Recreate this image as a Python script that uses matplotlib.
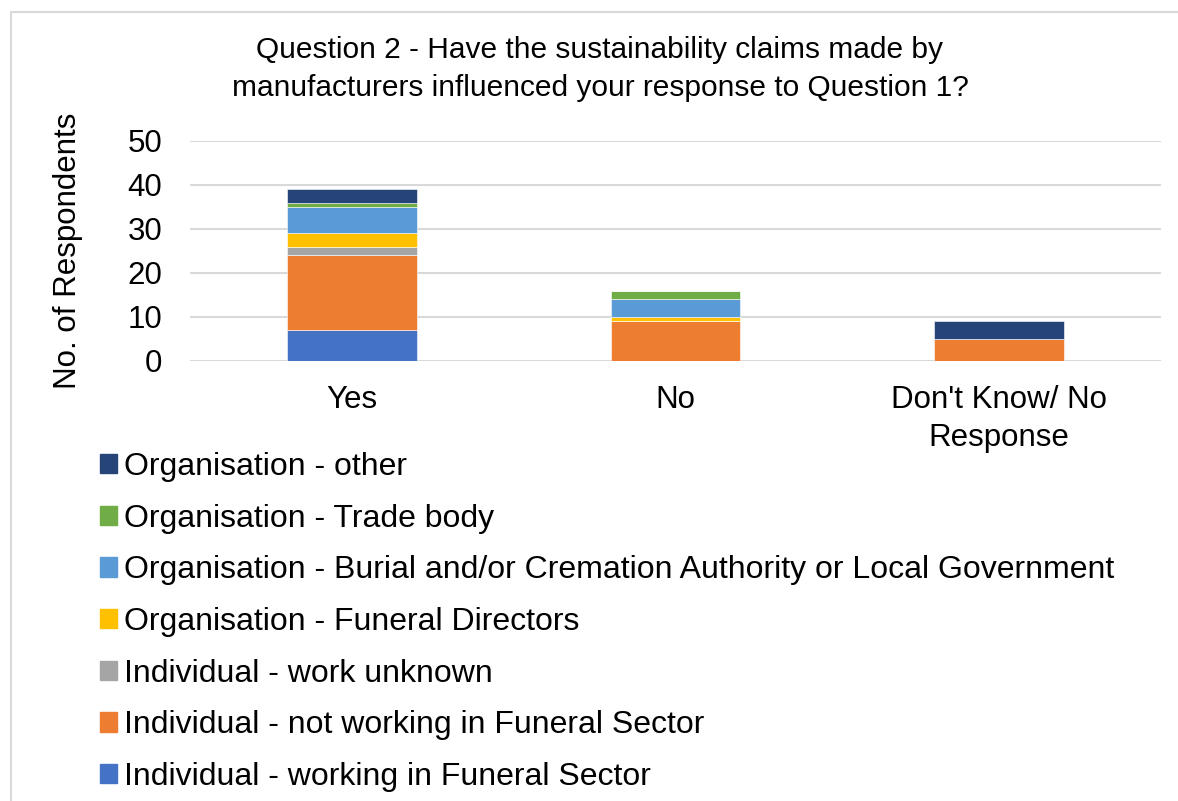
import matplotlib
matplotlib.use("Agg")
import matplotlib.pyplot as plt
from matplotlib.patches import Patch, Rectangle
import numpy as np

plt.rcParams['font.family'] = ['Liberation Sans', 'DejaVu Sans']

# survey answers and respondent groups (stack order bottom -> top)
answers = ["Yes", "No", "Don't Know/ No\nResponse"]
groups = [
    "Individual - working in Funeral Sector",
    "Individual - not working in Funeral Sector",
    "Individual - work unknown",
    "Organisation - Funeral Directors",
    "Organisation - Burial and/or Cremation Authority or Local Government",
    "Organisation - Trade body",
    "Organisation - other",
]
colours = ["#4472C4", "#ED7D31", "#A5A5A5", "#FFC000", "#5B9BD5", "#70AD47", "#264478"]

indiv_funeral = [7, 0, 0]
indiv_not_funeral = [17, 9, 5]
indiv_unknown = [2, 0, 0]
org_funeral_dir = [3, 1, 0]
org_burial = [6, 4, 0]
org_trade = [1, 2, 0]
org_other = [3, 0, 4]
series = [indiv_funeral, indiv_not_funeral, indiv_unknown, org_funeral_dir,
          org_burial, org_trade, org_other]

fig = plt.figure(figsize=(11.78, 8.01), dpi=100)

# light chart frame
fig.patches.append(Rectangle((11 / 1178, -0.05), 1.2, (801 - 12) / 801 + 0.05,
                             transform=fig.transFigure, fill=False,
                             edgecolor="#D9D9D9", linewidth=1.5))

ax = fig.add_axes([190 / 1178, (801 - 361) / 801, 971 / 1178, 220 / 801])

x = np.arange(len(answers))
bottom = np.zeros(len(answers))
handles = []
for vals, col, name in zip(series, colours, groups):
    ax.bar(x, vals, width=0.4, bottom=bottom, color=col, edgecolor="white",
           linewidth=0.4, zorder=3)
    bottom += np.array(vals)
    handles.append(Patch(facecolor=col, edgecolor=col, label=name))

ax.set_xlim(-0.5, 2.5)
ax.set_ylim(0, 50)
ax.set_yticks(range(0, 51, 10))
ax.yaxis.grid(True, color="#D9D9D9", linewidth=1.5, zorder=0)
ax.set_axisbelow(True)
for s in ["top", "right", "left", "bottom"]:
    ax.spines[s].set_visible(False)
ax.tick_params(length=0, labelsize=22.5, colors="black")
ax.tick_params(axis="y", pad=20)
ax.tick_params(axis="x", pad=17)
ax.set_xticks(x)
ax.set_xticklabels(answers, linespacing=1.38)
ax.set_ylabel("No. of Respondents", fontsize=22.5, labelpad=32)

fig.text(600 / 1178, (801 - 69) / 801,
         "Question 2 - Have the sustainability claims made by\n"
         "manufacturers influenced your response to Question 1?",
         ha="center", va="center", fontsize=21.5, linespacing=1.45)

fig.legend(handles=handles[::-1], loc="upper left",
           bbox_to_anchor=(87 / 1178, (801 - 439) / 801),
           frameon=False, fontsize=23, handlelength=0.55, handleheight=0.55,
           handletextpad=0.2, labelspacing=0.68, borderaxespad=0)

fig.savefig("out.png", dpi=100)
